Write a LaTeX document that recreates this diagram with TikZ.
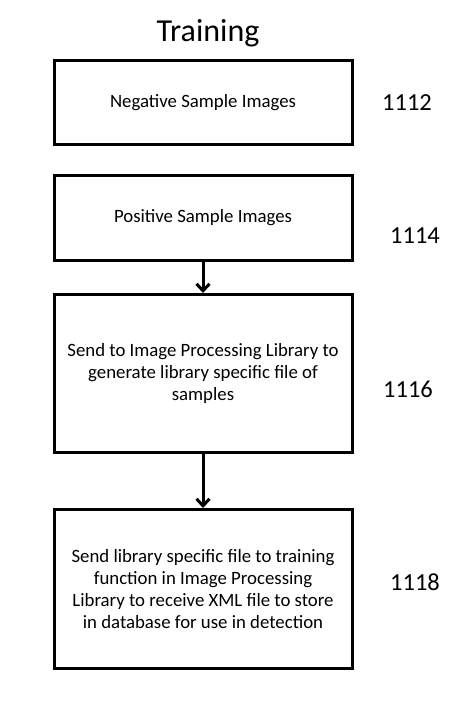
\documentclass[tikz,border=0pt]{standalone}
\usepackage{fontspec}
\setmainfont{Carlito}
\usetikzlibrary{arrows.meta}
\begin{document}
\begin{tikzpicture}[x=1pt,y=-1pt,
  box/.style={draw,line width=3pt,minimum width=298pt,inner sep=0pt,align=center,font=\fontsize{18.8}{22}\selectfont},
  ref/.style={font=\fontsize{24.5}{28}\selectfont},
  conn/.style={line width=3pt,-{Straight Barb[length=7pt,width=13pt,line width=3pt]}}]
\useasboundingbox (0,0) rectangle (459,706);
\node[font=\fontsize{32}{36}\selectfont] (title) at (208,33) {Training};
\node[box,minimum height=84pt] (b1) at (203,102.5) {Negative Sample Images};
\node[box,minimum height=85pt] (b2) at (203,218) {Positive Sample Images};
\node[box,minimum height=158pt] (b3) at (203,373.5) {Send to Image Processing Library to\\generate library specific file of\\samples};
\node[box,minimum height=159pt] (b4) at (203,589) {Send library specific file to training\\function in Image Processing\\Library to receive XML file to store\\in database for use in detection};
\node[ref] (r1) at (407,103) {1112};
\node[ref] (r2) at (415,236) {1114};
\node[ref] (r3) at (408,389) {1116};
\node[ref] (r4) at (415,582) {1118};
\draw[conn] (b2.south) -- (b3.north);
\draw[conn] (b3.south) -- (b4.north);
\end{tikzpicture}
\end{document}
